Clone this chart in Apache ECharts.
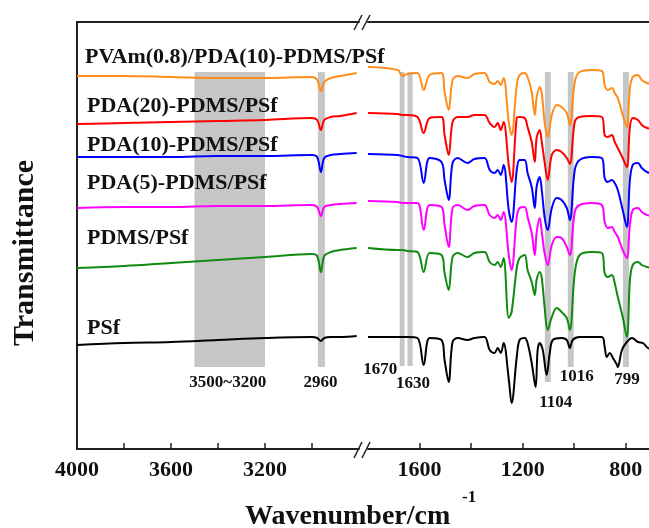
<!DOCTYPE html>
<html>
<head>
<meta charset="utf-8">
<script src="https://cdn.jsdelivr.net/npm/echarts@6/dist/echarts.min.js"></script>
<style>
html, body { margin: 0; padding: 0; background: #fff; }
#main { width: 649px; height: 528px; }
</style>
</head>
<body>
<div id="main"></div>
<script>
var myChart = echarts.init(document.getElementById('main'));

// wavenumber (cm-1) positions, transmittance in a.u.
var wnLeft = [4000, 3800, 3600, 3400, 3200, 3000, 2978, 2962, 2948, 2920, 2880, 2810];
var wnRight = [1800, 1685, 1666, 1647, 1608, 1584, 1561, 1515, 1503, 1487,
               1472, 1452, 1414, 1387, 1348, 1328, 1309, 1297, 1285, 1274,
               1254, 1243, 1223, 1212, 1192, 1181, 1165, 1153, 1146, 1134,
               1126, 1115, 1103, 1087, 1068, 1049, 1029, 1017, 998, 979,
               932, 893, 882, 870, 854, 843, 831, 812, 796, 784,
               773, 753, 738, 718, 700];
var wnPSf = [1800, 1685, 1647, 1608, 1584, 1561, 1515, 1503, 1487, 1472,
             1452, 1414, 1387, 1348, 1328, 1309, 1297, 1285, 1274, 1254,
             1243, 1223, 1212, 1192, 1181, 1165, 1150, 1142, 1134, 1122,
             1107, 1095, 1083, 1049, 1029, 1017, 1006, 979, 893, 882,
             874, 862, 850, 834, 831, 815, 796, 776, 753, 734,
             714, 700];

var names = ['PVAm(0.8)/PDA(10)-PDMS/PSf', 'PDA(20)-PDMS/PSf', 'PDA(10)-PDMS/PSf',
             'PDA(5)-PDMS/PSf', 'PDMS/PSf', 'PSf'];

var leftPVAm  = [373, 373, 372, 371, 371, 372, 369, 358, 367, 371, 373, 376];
var leftPDA20 = [325, 326, 327, 328, 329, 331, 329, 319, 329, 332, 333, 336];
var leftPDA10 = [292, 292, 292, 293, 293, 294, 292, 277, 291, 294, 295, 296];
var leftPDA5  = [241, 242, 242, 243, 243, 244, 242, 233, 242, 244, 245, 246];
var leftPDMS  = [181, 183, 186, 189, 192, 195, 193, 177, 193, 197, 199, 201];
var leftPSf   = [104, 106, 107, 109, 111, 112, 111, 108, 111, 112, 112, 113];

var rightPVAm = [382, 379, 373, 375, 376, 359, 374, 376, 357, 339,
                 369, 373, 371, 375, 376, 367, 365, 368, 364, 371,
                 327, 314, 364, 374, 376, 372, 357, 334, 351, 362,
                 356, 327, 312, 334, 344, 342, 336, 324, 367, 377,
                 379, 378, 364, 359, 361, 356, 351, 334, 322, 361,
                 372, 374, 369, 366, 365];
var rightPDA20 = [336, 335, 334, 334, 332, 316, 331, 332, 314, 294,
                  327, 332, 332, 334, 334, 326, 322, 326, 319, 327,
                  284, 267, 331, 332, 331, 322, 307, 287, 311, 319,
                  307, 287, 269, 294, 299, 297, 291, 285, 327, 332,
                  333, 332, 314, 312, 314, 307, 301, 291, 282, 322,
                  331, 329, 324, 321, 320];
var rightPDA10 = [295, 294, 293, 292, 291, 266, 291, 287, 269, 249,
                  286, 291, 286, 290, 291, 279, 276, 279, 274, 284,
                  239, 227, 279, 289, 289, 276, 262, 241, 262, 272,
                  259, 232, 219, 241, 251, 249, 241, 229, 279, 289,
                  292, 291, 271, 267, 269, 266, 259, 239, 222, 269,
                  284, 286, 281, 277, 276];
var rightPDA5 = [248, 247, 246, 246, 246, 219, 244, 242, 224, 202,
                 241, 244, 239, 243, 244, 234, 231, 234, 229, 237,
                 194, 179, 232, 241, 242, 232, 216, 194, 216, 231,
                 217, 196, 184, 204, 212, 211, 202, 194, 237, 244,
                 246, 244, 227, 221, 222, 217, 212, 199, 191, 224,
                 239, 241, 237, 234, 233];
var rightPDMS = [201, 199, 199, 198, 197, 177, 196, 194, 176, 159,
                 192, 196, 192, 196, 197, 187, 184, 187, 182, 191,
                 131, 137, 181, 191, 194, 179, 167, 154, 169, 177,
                 171, 142, 119, 132, 141, 137, 131, 119, 176, 194,
                 197, 196, 176, 172, 174, 166, 152, 132, 112, 169,
                 184, 187, 184, 182, 181];
var rightPSf = [112, 112, 112, 111, 84, 111, 109, 89, 67, 107,
                111, 109, 111, 112, 99, 96, 101, 96, 106, 70,
                46, 92, 109, 111, 106, 86, 62, 99, 106, 99,
                74, 96, 109, 111, 109, 101, 109, 112, 112, 102,
                92, 96, 91, 84, 82, 99, 107, 111, 107, 106,
                101, 100];

// shaded bands: [from, to, lower edge, upper edge, text]
var bandsLeft = [[3500, 3200, 82, 377, '3500~3200'], [2975, 2945, 82, 377, '2960']];
var bandsRight = [[1677, 1658, 83, 377, '1670'], [1647, 1627, 83, 377, '1630'],
                  [1114, 1091, 67, 377, '1104'], [1025, 1002, 82, 377, '1016'],
                  [811, 788, 82, 377, '799']];

var colors = ['#ff8c1a', '#ff0000', '#0000ff', '#ff00ff', '#108a10', '#000000'];
var leftData = [leftPVAm, leftPDA20, leftPDA10, leftPDA5, leftPDMS, leftPSf];
var rightData = [rightPVAm, rightPDA20, rightPDA10, rightPDA5, rightPDMS, rightPSf];

var serif = '"Liberation Serif", "Times New Roman", serif';
var labelOffsets = {
    '3500~3200': [-2, 7], '2960': [-1, 7], '1670': [-22, -5], '1630': [3, 9],
    '1104': [8, 12], '1016': [6, 1], '799': [1, 4]
};
var nameY = [57, 106, 145, 183, 238, 328];

function zip(xs, ys) {
    return xs.map(function (x, i) { return [x, ys[i]]; });
}

function bandData(bands) {
    return bands.map(function (b) {
        return [{
            xAxis: b[0], yAxis: b[2], name: b[4],
            label: { offset: labelOffsets[b[4]] }
        }, { xAxis: b[1], yAxis: b[3] }];
    });
}

var series = [];
[[0, bandsLeft], [1, bandsRight]].forEach(function (g) {
    series.push({
        type: 'line', xAxisIndex: g[0], yAxisIndex: g[0], data: [], z: 1,
        markArea: {
            silent: true,
            itemStyle: { color: '#c6c6c6' },
            label: {
                show: true, position: 'bottom', distance: 0,
                color: '#111', fontFamily: serif, fontWeight: 'bold', fontSize: 17
            },
            data: bandData(g[1])
        }
    });
});

names.forEach(function (name, i) {
    var common = {
        name: name, type: 'line', showSymbol: false, smooth: 0.35, z: 2,
        lineStyle: { color: colors[i], width: 2 }, itemStyle: { color: colors[i] }
    };
    series.push(Object.assign({}, common, { xAxisIndex: 0, yAxisIndex: 0, data: zip(wnLeft, leftData[i]) }));
    var xs = i === 5 ? wnPSf : wnRight;
    series.push(Object.assign({}, common, { xAxisIndex: 1, yAxisIndex: 1, data: zip(xs, rightData[i]) }));
});

var axisLineStyle = { color: '#222', width: 2 };
var tickLabel = {
    color: '#111', fontFamily: serif, fontWeight: 'bold', fontSize: 22, margin: 10,
    formatter: function (v) { return String(v); }
};

function bottomAxis(grid, min, max, ticks, labels) {
    return {
        type: 'value', gridIndex: grid, min: min, max: max, inverse: true, position: 'bottom',
        axisLine: { show: true, lineStyle: axisLineStyle },
        axisTick: { show: true, inside: true, length: 6, customValues: ticks, lineStyle: { color: '#222', width: 1.5 } },
        axisLabel: Object.assign({ customValues: labels }, tickLabel),
        splitLine: { show: false }
    };
}
function topAxis(grid, min, max) {
    return {
        type: 'value', gridIndex: grid, min: min, max: max, inverse: true, position: 'top',
        axisLine: { show: true, lineStyle: axisLineStyle },
        axisTick: { show: false }, axisLabel: { show: false }, splitLine: { show: false }
    };
}

var graphic = [];
names.forEach(function (name, i) {
    graphic.push({
        type: 'text', x: i === 0 ? 85 : 87, y: nameY[i], z: 100,
        style: { text: name, fill: '#111', font: 'bold 22px ' + serif, verticalAlign: 'middle' }
    });
});
graphic.push({
    type: 'text', x: 25, y: 253, rotation: Math.PI / 2, z: 100,
    style: { text: 'Transmittance', fill: '#111', font: 'bold 30px ' + serif, align: 'center', verticalAlign: 'middle' }
});
graphic.push({
    type: 'text', x: 245, y: 517, z: 100,
    style: { text: 'Wavenumber/cm', fill: '#111', font: 'bold 28px ' + serif, verticalAlign: 'middle' }
});
graphic.push({
    type: 'text', x: 462, y: 498, z: 100,
    style: { text: '-1', fill: '#111', font: 'bold 17px ' + serif, verticalAlign: 'middle' }
});
// axis break marks
[[354, 30, 362, 15], [362, 30, 370, 15], [354, 458, 362, 442], [362, 458, 370, 442]].forEach(function (s) {
    graphic.push({
        type: 'line', z: 100, shape: { x1: s[0], y1: s[1], x2: s[2], y2: s[3] },
        style: { stroke: '#222', lineWidth: 1.5 }
    });
});

option = {
    animation: false,
    backgroundColor: '#fff',
    grid: [
        { left: 77, top: 22, width: 282, height: 427 },
        { left: 368, top: 22, right: 0, height: 427 }
    ],
    xAxis: [
        bottomAxis(0, 2800, 4000, [3800, 3600, 3400, 3200, 3000], [4000, 3600, 3200]),
        bottomAxis(1, 710, 1800, [1600, 1400, 1200, 1000, 800], [1600, 1200, 800]),
        topAxis(0, 2800, 4000),
        topAxis(1, 710, 1800)
    ],
    yAxis: [
        { type: 'value', gridIndex: 0, min: 0, max: 427,
          axisLine: { show: true, lineStyle: axisLineStyle },
          axisTick: { show: false }, axisLabel: { show: false }, splitLine: { show: false } },
        { type: 'value', gridIndex: 1, min: 0, max: 427, show: false, splitLine: { show: false } }
    ],
    series: series,
    graphic: graphic
};

myChart.setOption(option);
</script>
</body>
</html>
